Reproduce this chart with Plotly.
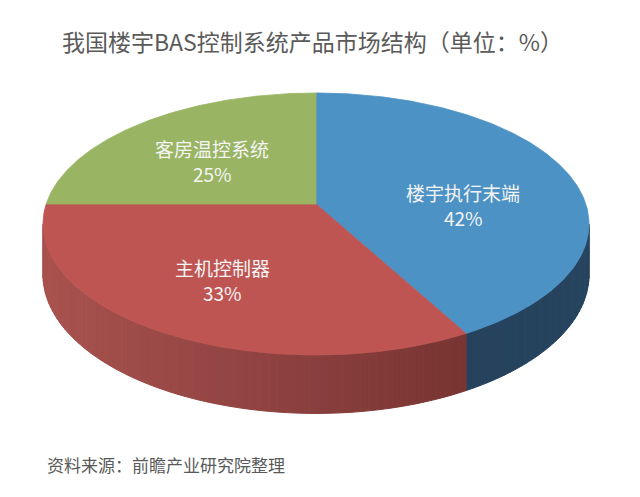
import numpy as np
import plotly.graph_objects as go

# ---- data ----
categories = ["楼宇执行末端", "主机控制器", "客房温控系统"]
shares = [42, 33, 25]
title_text = "我国楼宇BAS控制系统产品市场结构（单位：%）"
source_text = "资料来源：前瞻产业研究院整理"

# ---- style ----
top_colors = ["#4C92C5", "#BE5553", "#99B563"]
side_colors = [("#203A56", "#27445F"), ("#A8524F", "#6A2C2A"), ("#7F9A4A", "#6E8840")]
label_pos = [(463, 192), (222, 267), (212, 148)]
LINE_GAP = 25

# pseudo-3D projection parameters (pixel space)
CX, CY = 316, 204
A, B, K = 269.8, 127.95, 0.1527
D0 = 49.5


def proj(theta_deg, r=1.0, drop=False):
    t = np.radians(theta_deg)
    X, Y = r * np.sin(t), r * np.cos(t)
    w = 1 + K * Y
    x = CX + A * X / w
    y = CY - B * Y / w
    if drop:
        y = y + D0 / w
    return x, y


def mix(c1, c2, f):
    a = [int(c1[i:i + 2], 16) for i in (1, 3, 5)]
    b = [int(c2[i:i + 2], 16) for i in (1, 3, 5)]
    m = [round(a[j] + (b[j] - a[j]) * f) for j in range(3)]
    return "#%02x%02x%02x" % tuple(m)


total = float(sum(shares))
bounds = [0.0]
for s in shares:
    bounds.append(bounds[-1] + 360.0 * s / total)

fig = go.Figure()

# side walls (visible front part)
s1 = np.degrees(np.arccos(-K))
s2 = 360 - s1
for i in range(len(shares)):
    a0, a1 = max(bounds[i], s1), min(bounds[i + 1], s2)
    if a1 <= a0:
        continue
    n = max(2, int(np.ceil((a1 - a0) / 1.5)))
    edges = np.linspace(a0, a1, n + 1)
    for j in range(n):
        th = np.linspace(edges[j], edges[j + 1], 4)
        xt, yt = proj(th)
        xb, yb = proj(th[::-1], drop=True)
        xm, _ = proj((edges[j] + edges[j + 1]) / 2)
        f = 1 - (CX + A - xm) / (2 * A)
        col = mix(side_colors[i][0], side_colors[i][1], min(max(f, 0), 1))
        fig.add_trace(go.Scatter(
            x=np.concatenate([xt, xb, xt[:1]]), y=np.concatenate([yt, yb, yt[:1]]),
            mode="lines", fill="toself", fillcolor=col,
            line=dict(color=col, width=1), hoverinfo="skip", showlegend=False))

# top surfaces
for i in range(len(shares)):
    th = np.linspace(bounds[i], bounds[i + 1], 200)
    xe, ye = proj(th)
    xs = np.concatenate([[CX], xe, [CX]])
    ys = np.concatenate([[CY], ye, [CY]])
    fig.add_trace(go.Scatter(
        x=xs, y=ys, mode="lines", fill="toself", fillcolor=top_colors[i],
        line=dict(color=top_colors[i], width=0.8),
        name=categories[i], hoverinfo="skip", showlegend=False))

annotations = []
lab_font = dict(family="Noto Sans CJK SC", size=19, color="#F4F4F4")
for i, cat in enumerate(categories):
    lx, ly = label_pos[i]
    annotations.append(dict(
        x=lx, y=ly, xref="x", yref="y", text=cat, showarrow=False,
        font=lab_font, xanchor="center", yanchor="middle"))
    annotations.append(dict(
        x=lx, y=ly + LINE_GAP, xref="x", yref="y", text=f"{shares[i]}%",
        showarrow=False, font=lab_font, xanchor="center", yanchor="middle"))

annotations.append(dict(
    x=312, y=41, xref="x", yref="y", text=title_text, showarrow=False,
    font=dict(family="Noto Sans CJK SC", size=23, color="#5A5A5A"),
    xanchor="center", yanchor="middle"))
annotations.append(dict(
    x=45, y=464, xref="x", yref="y", text=source_text, showarrow=False,
    font=dict(family="Noto Sans CJK SC", size=17, color="#595959"),
    xanchor="left", yanchor="middle"))

fig.update_layout(
    width=640, height=497,
    margin=dict(l=0, r=0, t=0, b=0),
    paper_bgcolor="white", plot_bgcolor="white",
    xaxis=dict(range=[0, 640], visible=False, fixedrange=True),
    yaxis=dict(range=[497, 0], visible=False, fixedrange=True),
    annotations=annotations,
    showlegend=False,
)

fig.write_html("out.html", config={"displayModeBar": False},
               post_script="document.body.style.margin='0';document.body.style.overflow='hidden';")
